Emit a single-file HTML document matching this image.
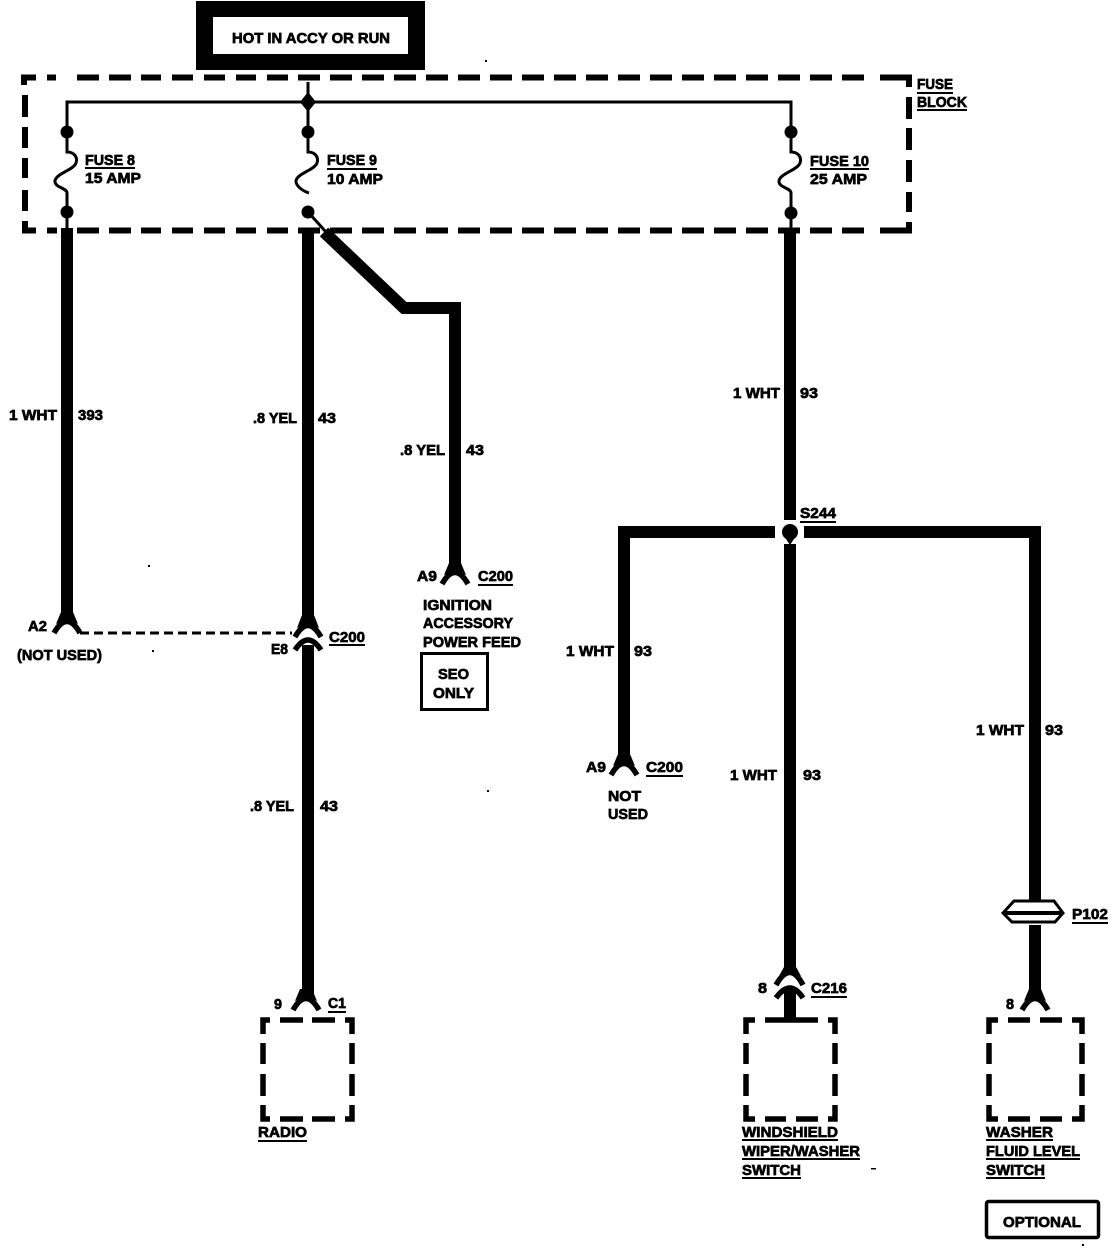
<!DOCTYPE html>
<html><head><meta charset="utf-8"><style>
html,body{margin:0;padding:0;background:#fff}
svg{display:block}
text{font-family:"Liberation Sans",sans-serif;font-weight:bold;font-size:15px;fill:#000;stroke:#000;stroke-width:.7}
</style></head><body>
<svg width="1120" height="1260" viewBox="0 0 1120 1260" xmlns="http://www.w3.org/2000/svg">
<rect width="1120" height="1260" fill="#fff"/>
<!-- hot box -->
<rect x="196" y="1" width="229" height="69" fill="#000"/>
<rect x="213" y="17" width="195" height="37" fill="#fff"/>
<!-- fuse block dashes -->
<g fill="none" stroke="#000" stroke-width="6">
<path d="M24 85V77.5H36M47 77.5H56"/>
<path d="M25 95V117M25 127V148M25 158V178M25 190V211M25 221V230.5H36M47 230.5H57"/>
<path d="M77 77.5H99M109 77.5H131M141 77.5H161M172 77.5H193M204 77.5H225M236 77.5H256M267 77.5H288M298 77.5H320M330 77.5H352M362 77.5H384M394 77.5H416M426 77.5H448M458 77.5H480M490 77.5H512M522 77.5H544M554 77.5H576M586 77.5H608M618 77.5H640M650 77.5H672M682 77.5H704M714 77.5H736M746 77.5H768M778 77.5H800M810 77.5H832M842 77.5H864M880 77.5H890H909V87"/>
<path d="M77 230.5H99M109 230.5H131M141 230.5H161M172 230.5H193M204 230.5H225M236 230.5H256M267 230.5H288M298 230.5H320M330 230.5H352M362 230.5H384M394 230.5H416M426 230.5H448M458 230.5H480M490 230.5H512M522 230.5H544M554 230.5H576M586 230.5H608M618 230.5H640M650 230.5H672M682 230.5H704M714 230.5H736M746 230.5H768M778 230.5H800M810 230.5H832M842 230.5H864M880 230.5H890H909V222"/>
<path d="M909 97V119M909 128V150M909 160V182M909 192V212"/>
</g>
<!-- bus + fuses -->
<g fill="none" stroke="#000" stroke-width="3">
<path d="M308 82V132M67 132V102H791V132"/>
<path d="M67 132V152C74 152 78 157 76 163C74 170 54 174 55 182C56 188 67 188 67 193V232"/>
<path d="M308 132V152C315 152 319 157 317 163C315 170 295 174 296 182C297 187 303 191 309 193"/>
<path d="M791 132V152C798 152 802 157 800 163C798 170 778 174 779 182C780 188 791 188 791 193V232"/>
<path d="M308 212L326 232"/>
</g>
<g fill="#000">
<path d="M308 92L316 102L308 112L300 102Z"/>
<circle cx="67" cy="132" r="6.5"/><circle cx="308" cy="132" r="6.5"/><circle cx="791" cy="132" r="6.5"/>
<circle cx="67" cy="212" r="6.5"/><circle cx="308" cy="212" r="6.5"/><circle cx="791" cy="213" r="6.5"/>
</g>
<!-- heavy wires -->
<g fill="none" stroke="#000" stroke-width="12">
<path d="M67 228V620"/>
<path d="M308 232V622"/>
<path d="M308 645V1000"/>
<path d="M324 232L404 308H455V572" stroke-linejoin="miter"/>
<path d="M790 232V520"/>
<path d="M790 544V975"/>
<path d="M790 990V1020"/>
<path d="M775 532H624V765"/>
<path d="M804 532H1035V900"/>
<path d="M1035 925V1000"/>
</g>
<path d="M790 525L798 533L790 545L782 533Z" fill="#000"/>
<circle cx="790" cy="532" r="8" fill="#000"/>
<!-- connector forks -->
<g fill="none" stroke="#000" stroke-width="5.5">
<path d="M54 633Q67 610 80 633"/>
<path d="M442 584Q455 561 468 584"/>
<path d="M611 775Q624 752 637 775"/>
<path d="M293 1010Q306 987 319 1010"/>
<path d="M1022 1010Q1035 987 1048 1010"/>
<path d="M295 637Q308 614 321 637"/>
<path d="M295 650Q308 630 321 650"/>
<path d="M776 985Q790 960 803 985"/>
<path d="M776 998Q790 978 803 998"/>
</g>
<g fill="#000">
<path d="M61 612H73L78 624L67 619L56 624Z"/>
<path d="M449 563H461L466 575L455 570L444 575Z"/>
<path d="M618 754H630L635 766L624 761L613 766Z"/>
<path d="M300 989H312L317 1001L306 996L295 1001Z"/>
<path d="M1029 989H1041L1046 1001L1035 996L1024 1001Z"/>
<path d="M302 615H314L319 628L308 623L297 628Z"/>
<path d="M784 967H796L801 976L790 971L779 976Z"/>
</g>
<path d="M80 633H292" fill="none" stroke="#000" stroke-width="3" stroke-dasharray="9 5"/>
<!-- P102 -->
<g fill="#fff" stroke="#000" stroke-width="3">
<path d="M1003 913L1014 901H1054L1063 913L1055 922H1012Z"/>
<path d="M1003 913H1063" stroke-width="4"/>
</g>
<!-- dashed device boxes -->
<g fill="none" stroke="#000" stroke-width="5.5">
<path d="M270 1020H263V1034M263 1043V1064M263 1074V1096M263 1105V1119H270M280 1119H303M312 1119H335M345 1119H352V1105M352 1096V1074M352 1064V1043M352 1034V1020H345M335 1020H312M303 1020H280"/>
<path d="M755 1020H746V1034M746 1043V1064M746 1074V1096M746 1105V1119H755M765 1119H786M796 1119H818M828 1119H835V1105M835 1096V1074M835 1064V1043M835 1034V1020H828M818 1020H765"/>
<path d="M998 1020H989V1034M989 1043V1064M989 1074V1096M989 1105V1119H998M1008 1119H1030M1040 1119H1062M1072 1119H1082V1105M1082 1096V1074M1082 1064V1043M1082 1034V1020H1072M1062 1020H1040M1030 1020H1008"/>
</g>
<!-- boxes -->
<rect x="421.5" y="653.5" width="66" height="56" fill="none" stroke="#000" stroke-width="3"/>
<rect x="986.5" y="1201.5" width="112" height="36" rx="2" fill="none" stroke="#000" stroke-width="3.5"/>
<!-- underlines -->
<g stroke="#000" stroke-width="2" fill="none">
<path d="M85 168H135M327 169H377M810 169H869M917 93H953M917 110H967M800 522H836M478 585H513M329 645H365M646 776H683M1072 923H1108M811 997H847M328 1012H346M258 1141H307M742 1140H838M742 1159H860M742 1178H801M986 1140H1053M986 1159H1080M986 1178H1045"/>
</g>
<!-- specks -->
<g fill="#000">
<rect x="485" y="60" width="2" height="2"/><rect x="152" y="650" width="2" height="2"/><rect x="487" y="790" width="2" height="2"/><rect x="1082" y="1244" width="2" height="2"/><rect x="871" y="1168" width="5" height="1.5"/><rect x="148" y="565" width="2" height="2"/>
</g>
<!-- text -->
<text x="232" y="43" textLength="158" lengthAdjust="spacingAndGlyphs">HOT IN ACCY OR RUN</text>
<text x="85" y="165" textLength="50" lengthAdjust="spacingAndGlyphs">FUSE 8</text>
<text x="85" y="183" textLength="56" lengthAdjust="spacingAndGlyphs">15 AMP</text>
<text x="327" y="165" textLength="50" lengthAdjust="spacingAndGlyphs">FUSE 9</text>
<text x="327" y="184" textLength="56" lengthAdjust="spacingAndGlyphs">10 AMP</text>
<text x="810" y="166" textLength="59" lengthAdjust="spacingAndGlyphs">FUSE 10</text>
<text x="810" y="184" textLength="57" lengthAdjust="spacingAndGlyphs">25 AMP</text>
<text x="917" y="89" textLength="36" lengthAdjust="spacingAndGlyphs">FUSE</text>
<text x="917" y="107" textLength="50" lengthAdjust="spacingAndGlyphs">BLOCK</text>
<text x="9" y="420" textLength="48" lengthAdjust="spacingAndGlyphs">1 WHT</text>
<text x="78" y="420" textLength="25" lengthAdjust="spacingAndGlyphs">393</text>
<text x="253" y="423" textLength="44" lengthAdjust="spacingAndGlyphs">.8 YEL</text>
<text x="318" y="423" textLength="18" lengthAdjust="spacingAndGlyphs">43</text>
<text x="400" y="455" textLength="45" lengthAdjust="spacingAndGlyphs">.8 YEL</text>
<text x="466" y="455" textLength="18" lengthAdjust="spacingAndGlyphs">43</text>
<text x="733" y="398" textLength="47" lengthAdjust="spacingAndGlyphs">1 WHT</text>
<text x="800" y="398" textLength="18" lengthAdjust="spacingAndGlyphs">93</text>
<text x="800" y="518" textLength="36" lengthAdjust="spacingAndGlyphs">S244</text>
<text x="566" y="656" textLength="48" lengthAdjust="spacingAndGlyphs">1 WHT</text>
<text x="634" y="656" textLength="18" lengthAdjust="spacingAndGlyphs">93</text>
<text x="417" y="581" textLength="20" lengthAdjust="spacingAndGlyphs">A9</text>
<text x="478" y="581" textLength="35" lengthAdjust="spacingAndGlyphs">C200</text>
<text x="28" y="631" textLength="19" lengthAdjust="spacingAndGlyphs">A2</text>
<text x="17" y="660" textLength="85" lengthAdjust="spacingAndGlyphs">(NOT USED)</text>
<text x="271" y="654" textLength="17" lengthAdjust="spacingAndGlyphs">E8</text>
<text x="329" y="642" textLength="36" lengthAdjust="spacingAndGlyphs">C200</text>
<text x="423" y="610" textLength="69" lengthAdjust="spacingAndGlyphs">IGNITION</text>
<text x="423" y="628" textLength="90" lengthAdjust="spacingAndGlyphs">ACCESSORY</text>
<text x="423" y="647" textLength="98" lengthAdjust="spacingAndGlyphs">POWER FEED</text>
<text x="438" y="679" textLength="31" lengthAdjust="spacingAndGlyphs">SEO</text>
<text x="433" y="698" textLength="41" lengthAdjust="spacingAndGlyphs">ONLY</text>
<text x="586" y="772" textLength="20" lengthAdjust="spacingAndGlyphs">A9</text>
<text x="646" y="772" textLength="37" lengthAdjust="spacingAndGlyphs">C200</text>
<text x="608" y="801" textLength="33" lengthAdjust="spacingAndGlyphs">NOT</text>
<text x="608" y="819" textLength="40" lengthAdjust="spacingAndGlyphs">USED</text>
<text x="730" y="780" textLength="47" lengthAdjust="spacingAndGlyphs">1 WHT</text>
<text x="803" y="780" textLength="18" lengthAdjust="spacingAndGlyphs">93</text>
<text x="976" y="735" textLength="48" lengthAdjust="spacingAndGlyphs">1 WHT</text>
<text x="1045" y="735" textLength="18" lengthAdjust="spacingAndGlyphs">93</text>
<text x="1072" y="919" textLength="36" lengthAdjust="spacingAndGlyphs">P102</text>
<text x="758" y="993" textLength="9" lengthAdjust="spacingAndGlyphs">8</text>
<text x="811" y="993" textLength="36" lengthAdjust="spacingAndGlyphs">C216</text>
<text x="1006" y="1009" textLength="8" lengthAdjust="spacingAndGlyphs">8</text>
<text x="274" y="1009" textLength="8" lengthAdjust="spacingAndGlyphs">9</text>
<text x="328" y="1008" textLength="18" lengthAdjust="spacingAndGlyphs">C1</text>
<text x="250" y="811" textLength="44" lengthAdjust="spacingAndGlyphs">.8 YEL</text>
<text x="320" y="811" textLength="18" lengthAdjust="spacingAndGlyphs">43</text>
<text x="258" y="1137" textLength="49" lengthAdjust="spacingAndGlyphs">RADIO</text>
<text x="742" y="1137" textLength="96" lengthAdjust="spacingAndGlyphs">WINDSHIELD</text>
<text x="742" y="1156" textLength="118" lengthAdjust="spacingAndGlyphs">WIPER/WASHER</text>
<text x="742" y="1175" textLength="59" lengthAdjust="spacingAndGlyphs">SWITCH</text>
<text x="986" y="1137" textLength="67" lengthAdjust="spacingAndGlyphs">WASHER</text>
<text x="986" y="1156" textLength="94" lengthAdjust="spacingAndGlyphs">FLUID LEVEL</text>
<text x="986" y="1175" textLength="59" lengthAdjust="spacingAndGlyphs">SWITCH</text>
<text x="1003" y="1227" textLength="78" lengthAdjust="spacingAndGlyphs">OPTIONAL</text>
</svg>
</body></html>
